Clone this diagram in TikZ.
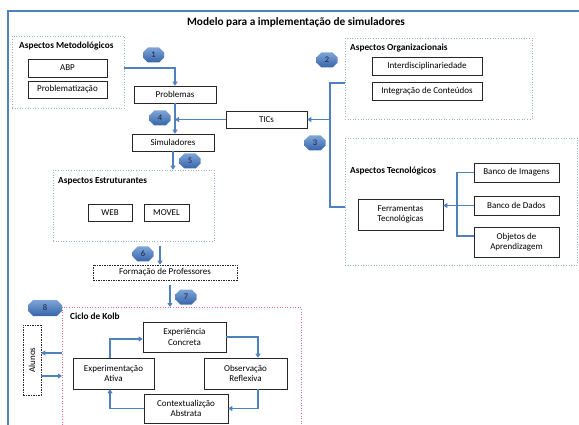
\documentclass[tikz,border=0pt]{standalone}
\usepackage{fontspec}
\setmainfont{Carlito}
\usetikzlibrary{arrows.meta,shapes.misc,calc}
\definecolor{ablue}{RGB}{79,129,189}
\definecolor{dotgray}{RGB}{160,175,200}
\definecolor{kolbred}{RGB}{225,110,135}
\definecolor{badgetop}{RGB}{125,165,215}
\definecolor{badgebot}{RGB}{55,100,170}
\definecolor{badgetxt}{RGB}{25,35,65}
\tikzset{
  box/.style={draw=black!85, line width=0.6pt, fill=white, inner sep=1pt, align=center,
    font=\fontsize{9}{10.5}\selectfont},
  dashbox/.style={box, dashed, dash pattern=on 1.5pt off 1pt},
  group/.style={draw=dotgray, line width=0.6pt, dotted, inner sep=0pt},
  grouplabel/.style={anchor=north west, inner sep=0pt, font=\fontsize{9.3}{10}\selectfont\bfseries},
  arr/.style={draw=ablue, line width=1.6pt, -{Triangle[length=4pt,width=5pt]}},
  plainline/.style={draw=ablue, line width=1.6pt},
  badge/.style={chamfered rectangle, chamfered rectangle xsep=3pt, chamfered rectangle ysep=3pt,
    top color=badgetop, bottom color=badgebot, draw=none, inner sep=0pt,
    minimum width=21pt, minimum height=15pt, text=badgetxt, font=\fontsize{8.5}{9}\selectfont},
}
\begin{document}
\begin{tikzpicture}[x=1pt,y=-1pt]
\useasboundingbox (0,0) rectangle (579,425);
% outer frame
\draw[draw=ablue, line width=1.8pt] (8,430) -- (8,11) -- (585,11);
\node[font=\fontsize{11.3}{13}\selectfont\bfseries] (title) at (296,22) {Modelo para a implementação de simuladores};

% group boxes
\node[group, minimum width=112pt, minimum height=72pt] (metod) at (68,72) {};
\node[grouplabel] (metodl) at (19,42) {Aspectos Metodológicos};
\node[group, minimum width=187pt, minimum height=81pt] (org) at (438.5,78.5) {};
\node[grouplabel] (orgl) at (350,44) {Aspectos Organizacionais};
\node[group, minimum width=232pt, minimum height=127pt] (tec) at (461,201.5) {};
\node[grouplabel] (tecl) at (350,167) {Aspectos Tecnológicos};
\node[group, minimum width=161pt, minimum height=71pt] (estr) at (133.5,205.5) {};
\node[grouplabel] (estrl) at (58,177) {Aspectos Estruturantes};
\draw[draw=kolbred, line width=0.6pt, dotted] (62,430) -- (62,307) -- (301,307) -- (301,430);
\coordinate (kolbw) at (62,307);
\coordinate (kolbn) at (170,307);
\node[grouplabel] (kolbl) at (70,313) {Ciclo de Kolb};

% boxes
\node[box, minimum width=79pt, minimum height=18pt] (abp) at (67.5,68) {ABP};
\node[box, minimum width=79pt, minimum height=17pt] (probz) at (67.5,89.5) {Problematização};
\node[box, minimum width=82pt, minimum height=17pt] (probl) at (175,94.5) {Problemas};
\node[box, minimum width=81pt, minimum height=17pt] (tics) at (266.5,119.5) {TICs};
\node[box, minimum width=82pt, minimum height=17pt] (simul) at (173,142.5) {Simuladores};
\node[box, minimum width=44pt, minimum height=17pt] (web) at (110,212.5) {WEB};
\node[box, minimum width=45pt, minimum height=17pt] (movel) at (166.5,212.5) {MOVEL};
\node[dashbox, minimum width=144pt, minimum height=15pt] (form) at (165,272.5) {Formação de Professores};
\node[dashbox, minimum width=18pt, minimum height=70pt] (alunos) at (32,360) {};
\node[font=\fontsize{9}{10.5}\selectfont, rotate=90] (alunost) at (alunos.center) {Alunos};
\node[box, minimum width=83pt, minimum height=30pt] (expc) at (184.5,337) {Experiência\\Concreta};
\node[box, minimum width=83pt, minimum height=31pt] (obs) at (245.5,373.5) {Observação\\Reflexiva};
\node[box, minimum width=84pt, minimum height=29pt] (cont) at (186,408.5) {Contextualizção\\Abstrata};
\node[box, minimum width=81pt, minimum height=31pt] (expa) at (113.5,373.5) {Experimentação\\Ativa};
\node[box, minimum width=110pt, minimum height=18pt] (inter) at (427,66) {Interdisciplinariedade};
\node[box, minimum width=110pt, minimum height=18pt] (integ) at (427,91) {Integração de Conteúdos};
\node[box, minimum width=85pt, minimum height=31pt] (ferr) at (400.5,214.5) {Ferramentas\\Tecnológicas};
\node[box, minimum width=85pt, minimum height=19pt] (bimg) at (516.5,172.5) {Banco de Imagens};
\node[box, minimum width=85pt, minimum height=19pt] (bdad) at (516.5,205.5) {Banco de Dados};
\node[box, minimum width=85pt, minimum height=30pt] (obj) at (516.5,242) {Objetos de\\Aprendizagem};

% connectors
\draw[arr] (abp -| metod.east) -| (probl.north);
\draw[arr] (tics.west) -- (tics -| probl.south);
\draw[arr] (probl.south) -- (probl.south |- simul.north);
\draw[arr] (simul.south) -- (simul.south |- estr.north);
\draw[arr, shorten <=5pt] ([xshift=-5pt]form.north |- estr.south) -- ([xshift=-5pt]form.north);
\draw[arr, shorten <=5pt] (form.south -| kolbn) -- (kolbn);
\coordinate (j1) at (330,83);
\coordinate (j2) at (330,207);
\draw[plainline] (org.west |- j1) -- (j1) -- (j2) -- (tec.west |- j2);
\draw[arr] (j1 |- tics) -- (tics.east);
\coordinate (b1) at (457,172.5);
\coordinate (b2) at (457,236);
\draw[plainline] (bimg.west) -- (b1) -- (b2) -- (obj.west |- b2);
\draw[arr] (bdad.west) -- (bdad.west -| ferr.east);
\draw[arr] ([yshift=-16pt]alunos.east) -- ([yshift=-16pt]alunos.east -| kolbw);
\draw[arr] ([yshift=7pt]alunos.east -| kolbw) -- ([yshift=7pt]alunos.east);
\draw[arr] (expc.east) -| ([xshift=12.5pt]obs.north);
\draw[arr] ([xshift=12.5pt]obs.south) |- (cont.east);
\draw[arr] (cont.west) -| ([xshift=-3.5pt]expa.south);
\draw[arr] ([xshift=-3.5pt]expa.north) |- ([yshift=-2pt]expc.west);

% badges
\node[badge] (n1) at (153.5,55) {1};
\node[badge] (n2) at (327,60) {2};
\node[badge] (n3) at (315,143) {3};
\node[badge] (n4) at (160,118) {4};
\node[badge] (n5) at (190,161) {5};
\node[badge] (n6) at (143,254) {6};
\node[badge] (n7) at (186,297) {7};
\node[badge, minimum width=34pt, minimum height=16pt, chamfered rectangle xsep=6pt] (n8) at (45,308) {8};
\end{tikzpicture}
\end{document}
